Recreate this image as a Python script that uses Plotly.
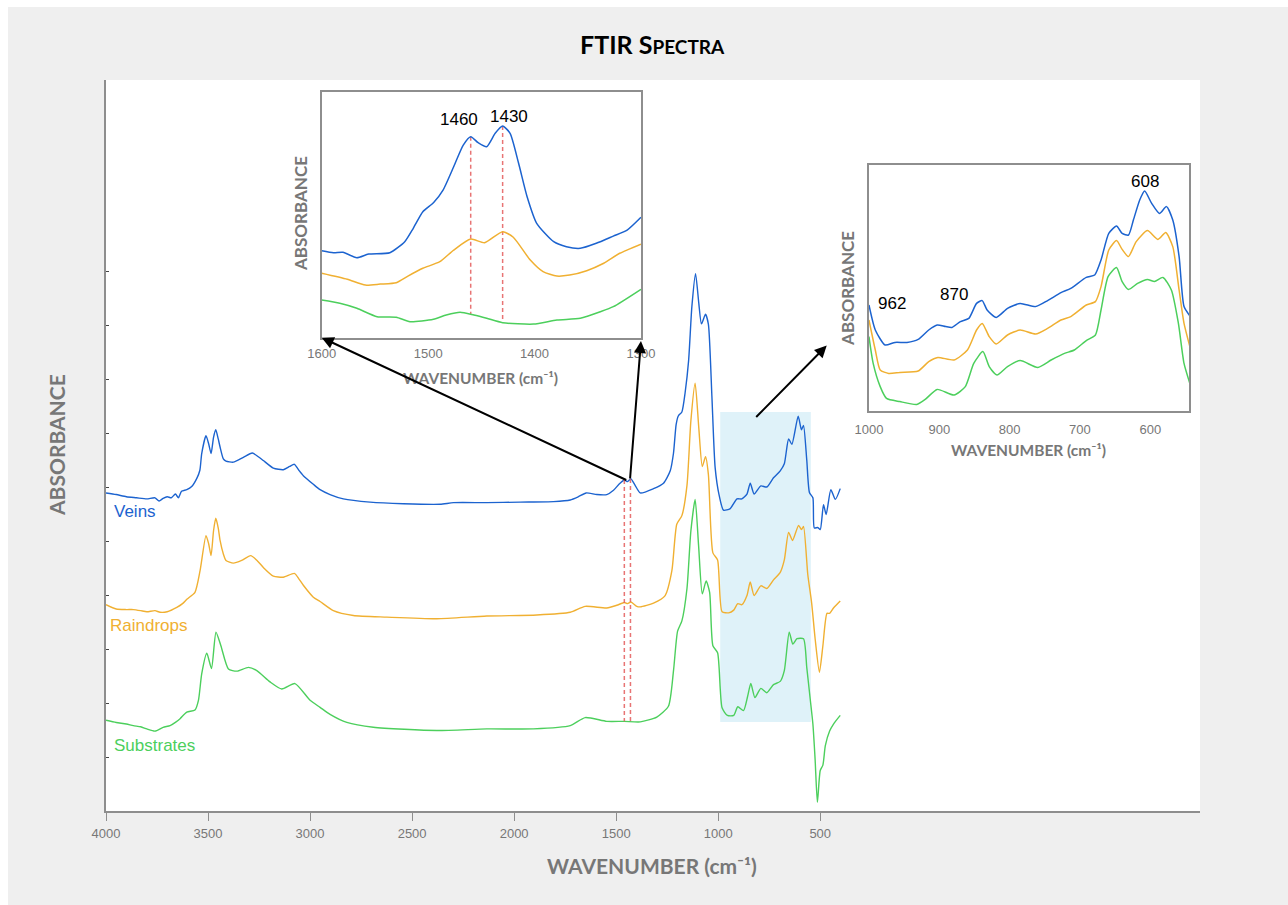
import plotly.graph_objects as go

# ---------------- main spectra (wavenumber in cm-1, absorbance in a.u.) ----------------
veins_wn = [4000, 3950, 3900, 3850, 3800, 3760, 3740, 3720, 3700, 3680, 3660, 3645, 3630, 3604, 3580,
            3555, 3540, 3531, 3510, 3497, 3485, 3473, 3462, 3450, 3441, 3425, 3412, 3376, 3327, 3283,
            3250, 3229, 3180, 3131, 3100, 3077, 3055, 3033, 2984, 2951, 2902, 2837, 2706, 2543, 2363,
            2297, 2134, 1971, 1807, 1725, 1685, 1647, 1595, 1546, 1513, 1484, 1460, 1444, 1428, 1407,
            1382, 1317, 1268, 1235, 1219, 1206, 1195, 1178, 1162, 1145, 1129, 1111, 1095, 1082, 1062,
            1048, 1031, 1015, 995, 974, 941, 908, 884, 859, 843, 824, 791, 762, 729, 696,
            676, 655, 639, 608, 592, 582, 566, 553, 536, 529, 512, 500, 484, 471, 448, 426, 402]
veins_abs = [0.589, 0.586, 0.582, 0.580, 0.578, 0.580, 0.574, 0.579, 0.582, 0.580, 0.587, 0.580, 0.592, 0.595, 0.601,
             0.616, 0.631, 0.662, 0.695, 0.680, 0.662, 0.692, 0.706, 0.689, 0.674, 0.652, 0.648, 0.646, 0.655, 0.663,
             0.655, 0.649, 0.635, 0.632, 0.638, 0.642, 0.631, 0.621, 0.605, 0.595, 0.586, 0.578, 0.572, 0.569, 0.568,
             0.571, 0.571, 0.572, 0.573, 0.576, 0.582, 0.589, 0.586, 0.586, 0.594, 0.606, 0.613, 0.610, 0.615, 0.603,
             0.589, 0.597, 0.607, 0.630, 0.663, 0.716, 0.732, 0.739, 0.775, 0.834, 0.934, 0.995, 0.940, 0.902, 0.920,
             0.901, 0.769, 0.636, 0.584, 0.557, 0.560, 0.578, 0.578, 0.587, 0.607, 0.587, 0.602, 0.600, 0.617, 0.630,
             0.643, 0.689, 0.679, 0.731, 0.706, 0.714, 0.650, 0.590, 0.580, 0.524, 0.525, 0.521, 0.567, 0.549, 0.595,
             0.577, 0.597]

rain_wn = [4000, 3950, 3900, 3866, 3830, 3800, 3760, 3735, 3700, 3653, 3625, 3604, 3564, 3539, 3510,
           3497, 3485, 3473, 3462, 3450, 3441, 3425, 3412, 3376, 3335, 3291, 3260, 3229, 3180, 3131,
           3077, 3055, 3033, 2984, 2951, 2886, 2788, 2624, 2379, 2134, 1889, 1725, 1652, 1546, 1497,
           1460, 1444, 1428, 1399, 1382, 1317, 1260, 1227, 1203, 1178, 1153, 1134, 1113, 1095, 1078,
           1062, 1048, 1026, 1003, 981, 949, 924, 904, 884, 859, 843, 824, 791, 762, 729,
           696, 676, 655, 636, 606, 592, 582, 561, 542, 525, 504, 487, 467, 454, 435, 402]
rain_abs = [0.382, 0.374, 0.373, 0.373, 0.371, 0.369, 0.371, 0.368, 0.369, 0.377, 0.384, 0.392, 0.405, 0.445, 0.510,
            0.495, 0.473, 0.519, 0.542, 0.524, 0.501, 0.476, 0.464, 0.459, 0.464, 0.473, 0.464, 0.451, 0.435, 0.433,
            0.440, 0.430, 0.418, 0.396, 0.388, 0.371, 0.362, 0.359, 0.356, 0.361, 0.363, 0.368, 0.379, 0.376, 0.381,
            0.386, 0.384, 0.387, 0.379, 0.378, 0.385, 0.399, 0.445, 0.531, 0.547, 0.603, 0.722, 0.792, 0.709, 0.638,
            0.656, 0.623, 0.478, 0.465, 0.369, 0.367, 0.372, 0.384, 0.382, 0.399, 0.424, 0.399, 0.417, 0.412, 0.428,
            0.442, 0.465, 0.516, 0.501, 0.529, 0.521, 0.527, 0.438, 0.385, 0.319, 0.257, 0.306, 0.366, 0.366, 0.376,
            0.389]

sub_wn = [4000, 3950, 3900, 3866, 3830, 3800, 3760, 3720, 3686, 3660, 3637, 3604, 3564, 3547, 3531,
          3506, 3483, 3461, 3437, 3400, 3359, 3302, 3261, 3196, 3139, 3074, 3000, 2951, 2902, 2820,
          2690, 2379, 2134, 1905, 1725, 1652, 1546, 1460, 1382, 1301, 1244, 1219, 1199, 1178, 1153,
          1134, 1113, 1096, 1078, 1059, 1042, 1026, 1003, 981, 955, 924, 904, 876, 856, 840,
          820, 791, 762, 729, 696, 676, 652, 634, 614, 582, 566, 549, 536, 525, 514,
          500, 487, 475, 454, 435, 402]
sub_abs = [0.168, 0.164, 0.161, 0.158, 0.156, 0.152, 0.148, 0.155, 0.158, 0.164, 0.171, 0.183, 0.187, 0.205, 0.254,
           0.292, 0.264, 0.331, 0.306, 0.263, 0.259, 0.266, 0.260, 0.239, 0.226, 0.236, 0.205, 0.192, 0.179, 0.164,
           0.155, 0.149, 0.152, 0.152, 0.158, 0.173, 0.166, 0.166, 0.165, 0.174, 0.194, 0.260, 0.333, 0.352, 0.412,
           0.518, 0.577, 0.491, 0.402, 0.426, 0.405, 0.306, 0.293, 0.191, 0.177, 0.177, 0.193, 0.186, 0.212, 0.236,
           0.210, 0.227, 0.219, 0.234, 0.240, 0.260, 0.331, 0.309, 0.319, 0.319, 0.266, 0.207, 0.161, 0.095, 0.016,
           0.075, 0.085, 0.121, 0.148, 0.161, 0.177]

# ---------------- inset 1: 1600-1300 cm-1 ----------------
in1_blue_wn = [1600, 1589, 1580, 1567, 1556, 1536, 1522, 1514, 1505, 1495, 1486, 1476, 1467, 1460, 1453,
               1445, 1437, 1430, 1423, 1415, 1407, 1398, 1382, 1370, 1357, 1342, 1326, 1313, 1300]
in1_blue = [0.435, 0.425, 0.427, 0.400, 0.418, 0.425, 0.480, 0.547, 0.630, 0.675, 0.738, 0.855, 0.963, 1.005, 0.975,
            0.955, 1.022, 1.058, 1.022, 0.872, 0.705, 0.572, 0.480, 0.455, 0.447, 0.472, 0.508, 0.538, 0.602]
in1_orange_wn = [1600, 1576, 1559, 1545, 1530, 1519, 1505, 1489, 1476, 1460, 1447, 1430, 1420, 1404, 1392,
                 1379, 1367, 1351, 1335, 1320, 1300]
in1_orange = [0.322, 0.292, 0.263, 0.268, 0.275, 0.308, 0.347, 0.380, 0.438, 0.493, 0.475, 0.530, 0.502, 0.388, 0.330,
              0.308, 0.313, 0.335, 0.372, 0.422, 0.468]
in1_green_wn = [1600, 1583, 1567, 1548, 1530, 1517, 1495, 1483, 1470, 1457, 1445, 1430, 1401, 1379, 1357,
                1338, 1326, 1300]
in1_green = [0.188, 0.172, 0.147, 0.105, 0.102, 0.080, 0.092, 0.113, 0.127, 0.113, 0.097, 0.075, 0.068, 0.088, 0.097,
             0.130, 0.155, 0.242]

# ---------------- inset 2: 1000-545 cm-1 ----------------
in2_blue_wn = [1000, 991, 977, 963, 946, 930, 915, 903, 891, 882, 870, 858, 847, 839, 832, 819, 803, 785, 763, 746,
               727, 713, 691, 679, 670, 659, 648, 640, 631, 624, 615, 608, 598, 587, 577, 568, 559, 552, 543]
in2_blue = [0.530, 0.405, 0.330, 0.343, 0.343, 0.358, 0.405, 0.430, 0.422, 0.418, 0.447, 0.463, 0.538, 0.552, 0.505,
            0.468, 0.513, 0.538, 0.522, 0.552, 0.592, 0.613, 0.668, 0.680, 0.755, 0.888, 0.925, 0.888, 0.880, 0.955,
            1.055, 1.100, 1.038, 0.988, 1.022, 0.955, 0.772, 0.522, 0.472]
in2_orange_wn = [1000, 991, 984, 972, 956, 930, 915, 902, 879, 860, 847, 839, 829, 819, 803, 785, 763, 746, 727, 713,
                 691, 678, 670, 659, 648, 640, 631, 620, 604, 589, 578, 568, 559, 552, 543]
in2_orange = [0.455, 0.305, 0.205, 0.188, 0.193, 0.200, 0.247, 0.268, 0.255, 0.305, 0.405, 0.438, 0.372, 0.335, 0.380,
              0.405, 0.385, 0.413, 0.455, 0.472, 0.530, 0.547, 0.622, 0.805, 0.852, 0.808, 0.772, 0.847, 0.902, 0.858,
              0.892, 0.822, 0.605, 0.438, 0.313]
in2_green_wn = [1000, 994, 984, 975, 956, 932, 920, 903, 879, 863, 851, 838, 829, 818, 803, 785, 760, 741, 722, 708,
                691, 678, 670, 660, 648, 640, 631, 618, 604, 594, 582, 570, 560, 552, 543]
in2_green = [0.372, 0.238, 0.122, 0.063, 0.047, 0.033, 0.058, 0.108, 0.080, 0.122, 0.238, 0.297, 0.222, 0.180, 0.222,
             0.252, 0.218, 0.255, 0.288, 0.305, 0.352, 0.380, 0.505, 0.672, 0.718, 0.647, 0.608, 0.638, 0.658, 0.647,
             0.668, 0.605, 0.438, 0.238, 0.130]

# marked bands
band_wn = [1460, 1430]
main_band_top = [0.613, 0.615]
main_band_bottom = [0.166, 0.166]
in1_band_top = [1.005, 1.058]
in1_band_bottom = [0.118, 0.075]
in1_labels = ["1460", "1430"]
in1_label_x = [1471, 1424]
in1_label_y = [1.092, 1.105]
in2_labels = ["962", "870", "608"]
in2_label_x = [967, 879, 607]
in2_label_y = [0.540, 0.585, 1.147]
zoom_band = [990, 546]          # highlighted wavenumber window
zoom_band_abs = [0.165, 0.739]

series_names = ["Veins", "Raindrops", "Substrates"]
series_label_x = [3972, 3990, 3972]
series_label_y = [0.554, 0.343, 0.122]
main_ticks = [4000, 3500, 3000, 2500, 2000, 1500, 1000, 500]
abs_ticks = [0.1, 0.2, 0.3, 0.4, 0.5, 0.6, 0.7, 0.8, 0.9, 1.0]

BLUE = "#1c63cf"
ORANGE = "#f0b032"
GREEN = "#4ccf5c"
RED = "rgba(228,92,92,0.85)"
GREY = "#777777"
AXIS = "#8e8e8e"
TFONT = "Lato"
NFONT = "Liberation Sans"

fig = go.Figure()


def spectrum(x, y, color, xa="x", ya="y", width=1.4):
    fig.add_trace(go.Scatter(x=x, y=y, mode="lines", xaxis=xa, yaxis=ya,
                             line=dict(color=color, width=width, shape="spline", smoothing=0.6),
                             hoverinfo="skip", showlegend=False))


spectrum(veins_wn, veins_abs, BLUE)
spectrum(rain_wn, rain_abs, ORANGE)
spectrum(sub_wn, sub_abs, GREEN)

for i, wn in enumerate(band_wn):
    fig.add_trace(go.Scatter(x=[wn, wn], y=[main_band_top[i], main_band_bottom[i]], mode="lines",
                             line=dict(color=RED, width=1.5, dash="4px,3px"),
                             hoverinfo="skip", showlegend=False))
    fig.add_trace(go.Scatter(x=[wn, wn], y=[in1_band_top[i], in1_band_bottom[i]], mode="lines",
                             xaxis="x2", yaxis="y2",
                             line=dict(color=RED, width=1.5, dash="4px,3px"),
                             hoverinfo="skip", showlegend=False))

spectrum(in1_blue_wn, in1_blue, BLUE, "x2", "y2", 1.5)
spectrum(in1_orange_wn, in1_orange, ORANGE, "x2", "y2", 1.5)
spectrum(in1_green_wn, in1_green, GREEN, "x2", "y2", 1.5)

spectrum(in2_blue_wn, in2_blue, BLUE, "x3", "y3", 1.5)
spectrum(in2_orange_wn, in2_orange, ORANGE, "x3", "y3", 1.5)
spectrum(in2_green_wn, in2_green, GREEN, "x3", "y3", 1.5)

fig.add_shape(type="rect", xref="x", yref="y", x0=zoom_band[0], x1=zoom_band[1],
              y0=zoom_band_abs[0], y1=zoom_band_abs[1],
              fillcolor="rgb(223,242,249)", line=dict(width=0), layer="below")

# white strips at the top and left page edges
fig.add_shape(type="rect", xref="paper", yref="paper", x0=-0.2, x1=1.2, y0=1.0998, y1=1.2,
              fillcolor="white", line=dict(width=0))
fig.add_shape(type="rect", xref="paper", yref="paper", x0=-0.2, x1=-0.0896, y0=-0.2, y1=1.2,
              fillcolor="white", line=dict(width=0))

ann = []
# title
ann.append(dict(text="<b>FTIR S<span style='font-size:19px'>PECTRA</span></b>", xref="paper", yref="paper",
                x=0.4991, y=1.0492, showarrow=False, font=dict(family=TFONT, size=25, color="black"),
                xanchor="center", yanchor="middle"))
# main axis titles
ann.append(dict(text="<b>WAVENUMBER (cm⁻¹)</b>", xref="paper", yref="paper", x=0.4991, y=-0.0752,
                showarrow=False, font=dict(family=TFONT, size=21, color=GREY), xanchor="center", yanchor="middle"))
ann.append(dict(text="<b>ABSORBANCE</b>", xref="paper", yref="paper", x=-0.0448, y=0.5007, textangle=-90,
                showarrow=False, font=dict(family=TFONT, size=21, color=GREY), xanchor="center", yanchor="middle"))
# inset axis titles
ann.append(dict(text="<b>WAVENUMBER (cm⁻¹)</b>", xref="paper", yref="paper", x=0.3419, y=0.5923,
                showarrow=False, font=dict(family=TFONT, size=15.5, color=GREY), xanchor="center", yanchor="middle"))
ann.append(dict(text="<b>ABSORBANCE</b>", xref="paper", yref="paper", x=0.1773, y=0.8180, textangle=-90,
                showarrow=False, font=dict(family=TFONT, size=17, color=GREY), xanchor="center", yanchor="middle"))
ann.append(dict(text="<b>WAVENUMBER (cm⁻¹)</b>", xref="paper", yref="paper", x=0.8428, y=0.4938,
                showarrow=False, font=dict(family=TFONT, size=15.5, color=GREY), xanchor="center", yanchor="middle"))
ann.append(dict(text="<b>ABSORBANCE</b>", xref="paper", yref="paper", x=0.6782, y=0.7155, textangle=-90,
                showarrow=False, font=dict(family=TFONT, size=17, color=GREY), xanchor="center", yanchor="middle"))
# series labels
for name, xv, yv, col in zip(series_names, series_label_x, series_label_y, [BLUE, ORANGE, GREEN]):
    ann.append(dict(text=name, xref="x", yref="y", x=xv, y=yv,
                    showarrow=False, font=dict(family=NFONT, size=17, color=col),
                    xanchor="left", yanchor="middle"))
# peak labels
for t, xv, yv in zip(in1_labels, in1_label_x, in1_label_y):
    ann.append(dict(text=t, xref="x2", yref="y2", x=xv, y=yv, showarrow=False,
                    font=dict(family=NFONT, size=17, color="black"), xanchor="center", yanchor="middle"))
for t, xv, yv in zip(in2_labels, in2_label_x, in2_label_y):
    ann.append(dict(text=t, xref="x3", yref="y3", x=xv, y=yv, showarrow=False,
                    font=dict(family=NFONT, size=17, color="black"), xanchor="center", yanchor="middle"))
# arrows linking the main spectrum to the insets
arrow = dict(text="", showarrow=True, arrowhead=2, arrowsize=1.2, arrowwidth=2, arrowcolor="black",
             standoff=0, startstandoff=0)
ann.append(dict(arrow, xref="x2", yref="y2", x=1600, y=0, ax=306, ay=143))
ann.append(dict(arrow, xref="paper", yref="paper", x=0.4890, y=0.6430, ax=-11, ay=139))
ann.append(dict(arrow, xref="paper", yref="paper", x=0.6588, y=0.6367, ax=-72, ay=73))

tick_font = dict(family=NFONT, size=13, color=GREY)

fig.update_layout(
    width=1288, height=905,
    margin=dict(l=106, r=88, t=80, b=94),
    paper_bgcolor="#efefef", plot_bgcolor="white",
    showlegend=False,
    annotations=ann,
    xaxis=dict(domain=[0, 1], range=[4000, -1361], tickvals=main_ticks, ticks="outside", ticklen=8,
               tickcolor=AXIS, tickwidth=1, showline=True, linecolor=AXIS, linewidth=2, showgrid=False,
               zeroline=False, tickfont=tick_font, ticklabelstandoff=1),
    yaxis=dict(domain=[0, 1], range=[0, 1.3537], tickvals=abs_ticks, ticks="inside", ticklen=3,
               tickcolor="#444", showticklabels=False, showline=True, linecolor=AXIS, linewidth=2,
               showgrid=False, zeroline=False),
    xaxis2=dict(domain=[0.1972, 0.4890], range=[1600, 1300], anchor="y2", tickvals=[1600, 1500, 1400, 1300],
                ticks="", showline=True, mirror=True, linecolor=AXIS, linewidth=1.5, showgrid=False,
                zeroline=False, tickfont=tick_font, ticklabelstandoff=3),
    yaxis2=dict(domain=[0.6475, 0.9840], range=[0, 1.23], anchor="x2", showticklabels=False, ticks="",
                showline=True, mirror=True, linecolor=AXIS, linewidth=1.5, showgrid=False, zeroline=False),
    xaxis3=dict(domain=[0.6974, 0.9899], range=[1000, 545], anchor="y3", tickvals=[1000, 900, 800, 700, 600],
                ticks="", showline=True, mirror=True, linecolor=AXIS, linewidth=1.5, showgrid=False,
                zeroline=False, tickfont=tick_font, ticklabelstandoff=6),
    yaxis3=dict(domain=[0.5472, 0.8837], range=[0, 1.23], anchor="x3", showticklabels=False, ticks="",
                showline=True, mirror=True, linecolor=AXIS, linewidth=1.5, showgrid=False, zeroline=False),
)

fig.write_html("out.html", config={"displayModeBar": False})
